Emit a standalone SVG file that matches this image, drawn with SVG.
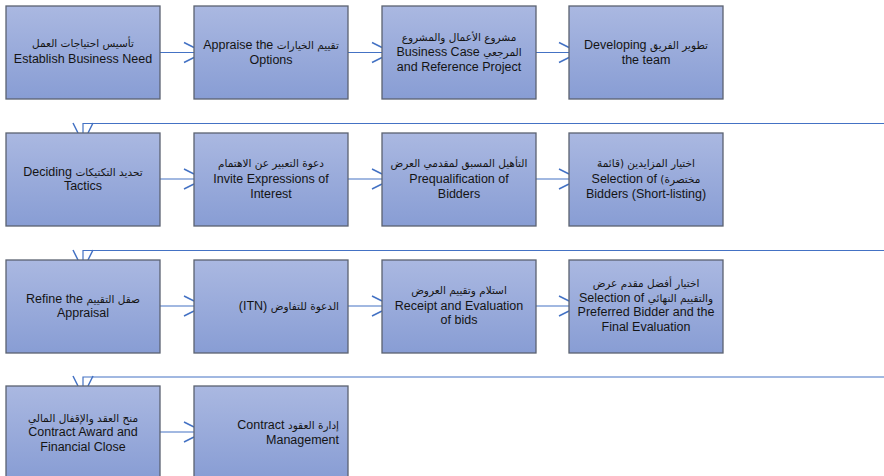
<svg xmlns="http://www.w3.org/2000/svg" width="884" height="476" viewBox="0 0 884 476">
<defs>
<linearGradient id="g" x1="0" y1="0" x2="0" y2="1">
<stop offset="0" stop-color="#AAB8E1"/>
<stop offset="1" stop-color="#889DD4"/>
</linearGradient>
<style>
.box{fill:url(#g);stroke:#5B6270;stroke-width:1.3}
.c{fill:none;stroke:#4472C4;stroke-width:1.2}
.h{fill:none;stroke:#4472C4;stroke-width:1.5}
text{font-family:"Liberation Sans","DejaVu Sans",Arial,sans-serif;font-size:12.5px;fill:#141414;text-anchor:middle}
.a{font-family:"DejaVu Sans",sans-serif;font-size:10.5px}
.r{direction:rtl;unicode-bidi:embed}
.re{direction:rtl;unicode-bidi:embed;text-anchor:start}
</style>
</defs>
<rect width="884" height="476" fill="#ffffff"/>
<g id="connectors">
<path class="c" d="M160,52.5 H194"/>
<path class="c" d="M348,52.5 H382"/>
<path class="c" d="M536,52.5 H569"/>
<path class="c" d="M884,123.5 H83 V133"/>
<path class="c" d="M160,179 H194"/>
<path class="c" d="M348,179 H382"/>
<path class="c" d="M536,179 H569"/>
<path class="c" d="M884,250.5 H83 V260"/>
<path class="c" d="M160,306 H194"/>
<path class="c" d="M348,306 H382"/>
<path class="c" d="M536,306 H569"/>
<path class="c" d="M884,377 H83 V386"/>
<path class="c" d="M160,432 H194"/>
<path class="h" d="M184,42.5 L194,47.5 M184,62.5 L194,57.5"/>
<path class="h" d="M372,42.5 L382,47.5 M372,62.5 L382,57.5"/>
<path class="h" d="M559,42.5 L569,47.5 M559,62.5 L569,57.5"/>
<path class="h" d="M73,123 L78,133 M93,123 L88,133"/>
<path class="h" d="M184,169 L194,174 M184,189 L194,184"/>
<path class="h" d="M372,169 L382,174 M372,189 L382,184"/>
<path class="h" d="M559,169 L569,174 M559,189 L569,184"/>
<path class="h" d="M73,250 L78,260 M93,250 L88,260"/>
<path class="h" d="M184,296 L194,301 M184,316 L194,311"/>
<path class="h" d="M372,296 L382,301 M372,316 L382,311"/>
<path class="h" d="M559,296 L569,301 M559,316 L569,311"/>
<path class="h" d="M73,376 L78,386 M93,376 L88,386"/>
<path class="h" d="M184,422 L194,427 M184,442 L194,437"/>
</g>
<g id="n1"><rect class="box" x="6" y="6" width="154" height="93"/>
<text class="r" x="83" y="47"><tspan class="a">تأسيس احتياجات العمل</tspan></text>
<text x="83" y="63">Establish Business Need</text></g>
<g id="n2"><rect class="box" x="194" y="6" width="154" height="93"/>
<text class="r" x="271" y="49"><tspan class="a">تقييم الخيارات</tspan>  Appraise the</text>
<text x="271" y="64">Options</text></g>
<g id="n3"><rect class="box" x="382" y="6" width="154" height="93"/>
<text class="r" x="459" y="41"><tspan class="a">مشروع الأعمال والمشروع</tspan></text>
<text class="r" x="459" y="56"><tspan class="a">المرجعي</tspan>  Business Case</text>
<text x="459" y="71">and Reference Project</text></g>
<g id="n4"><rect class="box" x="569" y="6" width="154" height="93"/>
<text class="r" x="646" y="49"><tspan class="a">تطوير الفريق</tspan>  Developing</text>
<text x="646" y="64">the team</text></g>
<g id="n5"><rect class="box" x="6" y="133" width="154" height="93"/>
<text class="r" x="83" y="176"><tspan class="a">تحديد التكتيكات</tspan> Deciding</text>
<text x="83" y="190">Tactics</text></g>
<g id="n6"><rect class="box" x="194" y="133" width="154" height="93"/>
<text class="r" x="271" y="167"><tspan class="a">دعوة التعبير عن الاهتمام</tspan></text>
<text x="271" y="183">Invite Expressions of</text>
<text x="271" y="198">Interest</text></g>
<g id="n7"><rect class="box" x="382" y="133" width="154" height="93"/>
<text class="r" x="459" y="167"><tspan class="a">التأهيل المسبق لمقدمي العرض</tspan></text>
<text x="459" y="183">Prequalification of</text>
<text x="459" y="198">Bidders</text></g>
<g id="n8"><rect class="box" x="569" y="133" width="154" height="93"/>
<text class="r" x="646" y="167"><tspan class="a">اختيار المزايدين (قائمة</tspan></text>
<text class="r" x="646" y="183"><tspan class="a">مختصرة)</tspan>  Selection of</text>
<text x="646" y="198">Bidders (Short-listing)</text></g>
<g id="n9"><rect class="box" x="6" y="260" width="154" height="93"/>
<text class="r" x="83" y="303"><tspan class="a">صقل التقييم</tspan>  Refine the</text>
<text x="83" y="317">Appraisal</text></g>
<g id="n10"><rect class="box" x="194" y="260" width="154" height="93"/>
<text class="re" x="339" y="310"><tspan class="a">الدعوة للتفاوض</tspan> (ITN)</text></g>
<g id="n11"><rect class="box" x="382" y="260" width="154" height="93"/>
<text class="r" x="459" y="294"><tspan class="a">استلام وتقييم العروض</tspan></text>
<text x="459" y="310">Receipt and Evaluation</text>
<text x="459" y="324">of bids</text></g>
<g id="n12"><rect class="box" x="569" y="260" width="154" height="93"/>
<text class="r" x="646" y="287"><tspan class="a">اختيار أفضل مقدم عرض</tspan></text>
<text class="r" x="646" y="302"><tspan class="a">والتقييم النهائي</tspan>  Selection of</text>
<text x="646" y="316">Preferred Bidder and the</text>
<text x="646" y="331">Final Evaluation</text></g>
<g id="n13"><rect class="box" x="6" y="386" width="154" height="93"/>
<text class="r" x="83" y="422"><tspan class="a">منح العقد والإقفال المالي</tspan></text>
<text x="83" y="436">Contract Award and</text>
<text x="83" y="451">Financial Close</text></g>
<g id="n14"><rect class="box" x="194" y="386" width="154" height="93"/>
<text class="re" x="339" y="429"><tspan class="a">إدارة العقود</tspan>  Contract</text>
<text class="re" x="339" y="444">Management</text></g>
</svg>
